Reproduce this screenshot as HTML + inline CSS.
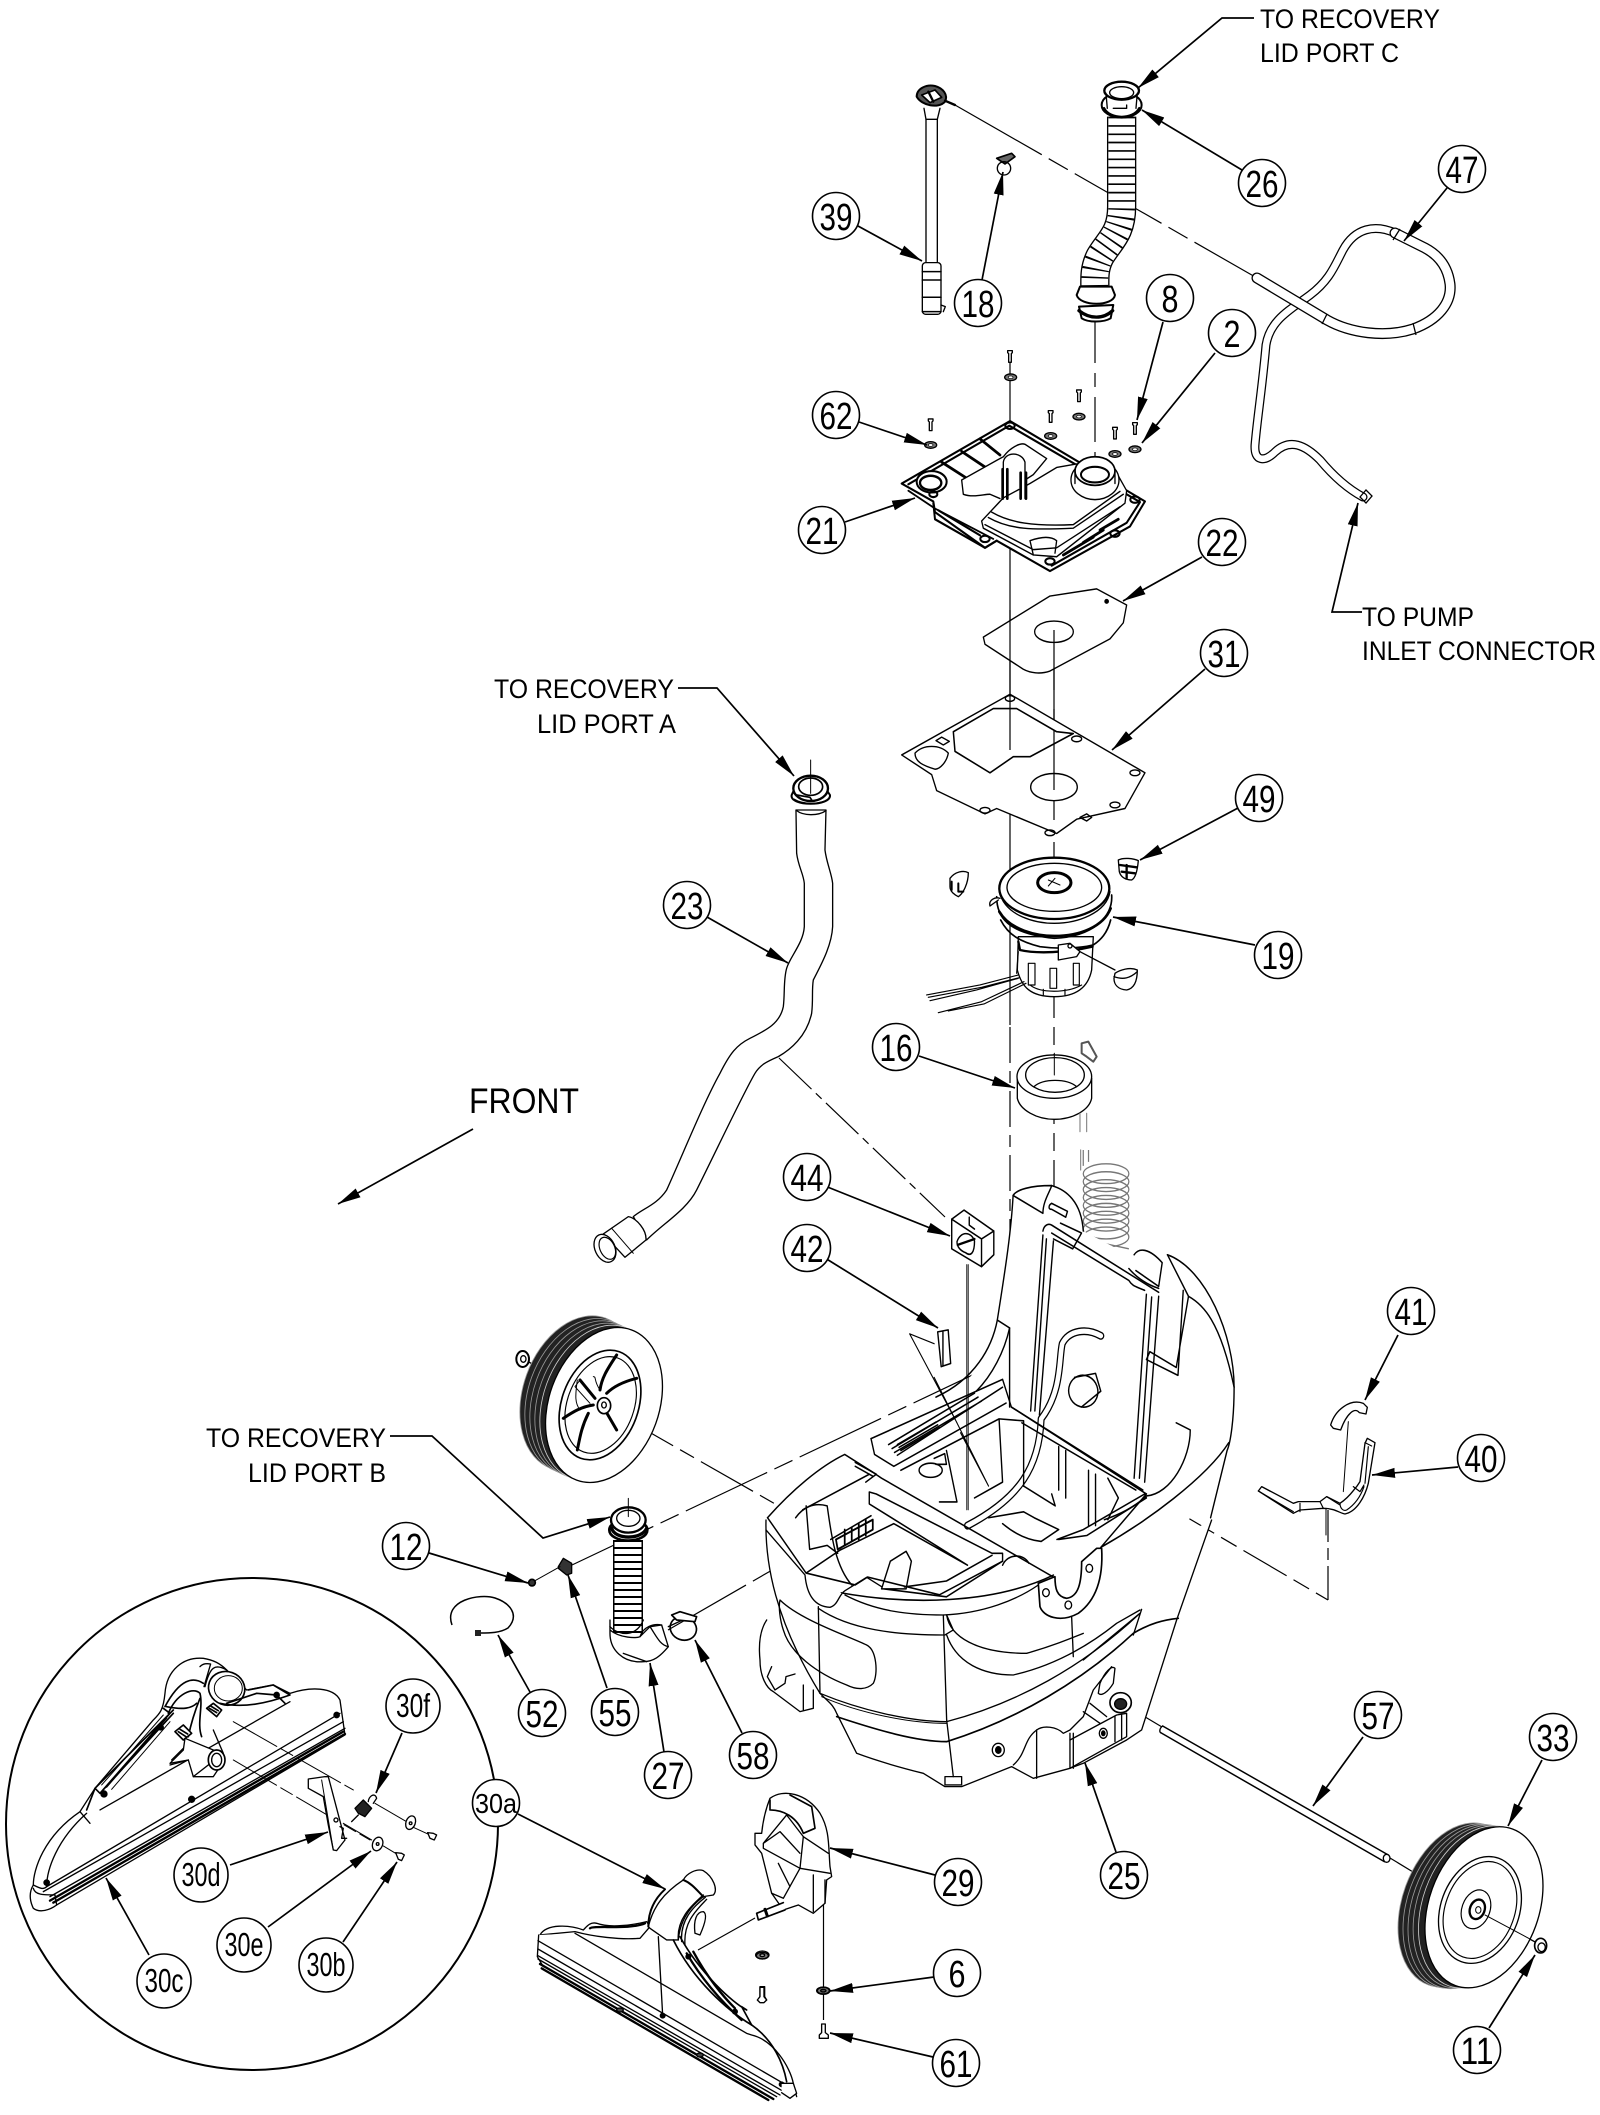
<!DOCTYPE html>
<html><head><meta charset="utf-8"><title>Parts diagram</title>
<style>
html,body{margin:0;padding:0;background:#fff}
svg{display:block}
text{font-family:"Liberation Sans",sans-serif;fill:#000}
.n{font-size:38px;text-anchor:middle}
.s{font-size:33px;text-anchor:middle}
.t{font-size:27px}
.L circle{fill:#fff;stroke:#000;stroke-width:1.6}
.ld{fill:none;stroke:#000;stroke-width:1.7;marker-end:url(#a)}
.d{fill:none;stroke:#000;stroke-width:1.2}
.z{fill:none;stroke:#000;stroke-width:4;stroke-linejoin:round;stroke-linecap:round}
.th{stroke-width:9}
</style></head><body>
<svg xmlns="http://www.w3.org/2000/svg" width="1600" height="2115" viewBox="0 0 1600 2115">
<defs>
<marker id="a" markerUnits="userSpaceOnUse" markerWidth="26" markerHeight="14" refX="23" refY="6" orient="auto"><path d="M0,1 L23,6 L0,11 Z" fill="#000"/></marker>
<g id="scr"><path d="M-7,-18 h14 v6 l-3,3 v26 h-8 v-26 l-3,-3 z" fill="#fff" stroke="#000" stroke-width="4"/></g>
<g id="was"><ellipse rx="18" ry="10" fill="#777" stroke="#000" stroke-width="4"/><ellipse rx="7" ry="4" fill="#fff" stroke="#000" stroke-width="2"/></g>
</defs>
<rect width="1600" height="2115" fill="#fff"/>

<!-- dashed axes -->
<g class="d">
<path d="M955,105 L1257,278" stroke-dasharray="100 8 22 8"/>
<path d="M1010,350 V1025"/>
<path d="M1010,1027 V1420" stroke-dasharray="36 8 12 8"/>
<path d="M1095,318 V480" stroke-dasharray="45 10 14 10"/>
<path d="M1054,630 V1560" stroke-dasharray="70 9 18 9"/>
<path d="M779,1058 L945,1217" stroke-dasharray="45 6 8 6"/>
<path d="M621,1416 L777,1505" stroke-dasharray="60 8 16 8"/>
<path d="M572,1565 L1040,1343" stroke-dasharray="90 8 20 8"/>
<path d="M668,1630 L1010,1433" stroke-dasharray="90 8 20 8"/>
<path d="M1171,1508 L1328,1600" stroke-dasharray="50 8 18 8"/>
<path d="M1328,1600 V1510" stroke-dasharray="34 6 12 6"/>
<path d="M1130,1708 L1162,1727 M1390,1858 L1418,1875 M1485,1915 L1535,1942"/>
<path d="M698,1950 L755,1918"/>
<path d="M823.5,1905 V2020"/>
</g>

<!-- Zoom-4 region: standpipe, hose 26, screws -->
<g transform="translate(880,40) scale(.3333)" class="z">
<path d="M110,170 C110,145 140,132 165,138 C190,145 205,165 195,185 C175,207 125,197 110,170Z" fill="#555" stroke-width="6"/>
<path d="M125,165 L165,150 L185,172 L150,188 Z" fill="#fff" stroke-width="5"/>
<path d="M145,155 L160,185 M195,182 L225,195" stroke-width="7"/>
<path d="M132,205 L138,238 H172 L180,205"/>
<path d="M138,238 V665 M172,238 V665"/>
<rect x="127" y="668" width="56" height="155" rx="10" fill="#fff"/>
<path d="M127,695 H183 M127,720 H183 M127,772 H183 M127,815 H183" stroke-width="4.5"/>
<path d="M183,795 L196,800 L190,815"/>
<path d="M350,355 L395,340 L405,350 L375,372 Z" fill="#666" stroke-width="5"/><ellipse cx="372" cy="385" rx="20" ry="20"/>
<path d="M725,230 C725,330 725,420 725,500 C725,580 690,600 660,650 C640,690 645,720 645,770" stroke="#000" stroke-width="88" stroke-linecap="butt"/>
<path d="M725,230 C725,330 725,420 725,500 C725,580 690,600 660,650 C640,690 645,720 645,770" stroke="#fff" stroke-width="80" stroke-linecap="butt"/>
<path d="M725,230 C725,330 725,420 725,500 C725,580 690,600 660,650 C640,690 645,720 645,770" stroke="#000" stroke-width="80" stroke-linecap="butt" stroke-dasharray="5 20"/>
<ellipse cx="725" cy="195" rx="60" ry="38" fill="#fff" stroke-width="6"/>
<path d="M672,205 C690,240 760,240 778,205" stroke-width="8"/>
<ellipse cx="725" cy="152" rx="52" ry="27" fill="#fff" stroke-width="7"/><ellipse cx="725" cy="158" rx="36" ry="18"/>
<path d="M678,160 L682,205 M772,160 L768,205 M700,205 H740 V195"/>
<path d="M590,765 C600,800 700,800 705,765 L695,740 H600 Z" fill="#fff" stroke-width="6"/>
<path d="M597,800 L605,835 C625,848 670,848 692,835 L700,795 Z" fill="#fff" stroke-width="6"/>
<path d="M597,812 C630,838 670,838 698,812" stroke-width="10"/>
<use href="#scr" x="390" y="950"/><use href="#was" x="392" y="1012"/>
<use href="#scr" x="597" y="1068"/><use href="#was" x="597" y="1130"/>
<use href="#scr" x="512" y="1130"/><use href="#was" x="512" y="1188"/>
<use href="#scr" x="705" y="1180"/><use href="#was" x="705" y="1242"/>
<use href="#scr" x="765" y="1166"/><use href="#was" x="765" y="1228"/>
<use href="#scr" x="152" y="1155"/><use href="#was" x="152" y="1215"/>
</g>

<!-- handle hose 47 -->
<g fill="none">
<path d="M1395,233 C1375,224 1355,228 1343,250 C1335,265 1330,280 1310,295 C1290,310 1270,320 1266,345 C1262,390 1257,420 1255,445 C1254,462 1265,462 1275,452 C1290,438 1305,445 1320,460 C1335,478 1350,490 1363,497" stroke="#000" stroke-width="9" stroke-linecap="round"/>
<path d="M1395,233 C1375,224 1355,228 1343,250 C1335,265 1330,280 1310,295 C1290,310 1270,320 1266,345 C1262,390 1257,420 1255,445 C1254,462 1265,462 1275,452 C1290,438 1305,445 1320,460 C1335,478 1350,490 1363,497" stroke="#fff" stroke-width="6.5" stroke-linecap="round"/>
<path d="M1257,278 L1327,320 C1350,333 1385,338 1413,329 C1438,320 1452,303 1450,284 C1448,268 1440,256 1425,248 L1395,233" stroke="#000" stroke-width="11" stroke-linecap="round"/>
<path d="M1257,278 L1327,320 C1350,333 1385,338 1413,329 C1438,320 1452,303 1450,284 C1448,268 1440,256 1425,248 L1395,233" stroke="#fff" stroke-width="8.4" stroke-linecap="round"/>
<path d="M1327,314 L1322,324 M1413,323 L1416,335 M1400,229 L1393,240 M1360,497 L1366,490 L1372,496 L1366,503Z" stroke="#000" stroke-width="1.3"/>
</g>

<!-- Zoom-2 region: lid, gaskets -->
<g transform="translate(860,280) scale(.3333,.3571)" class="z">
<path d="M125,570 L450,395 L855,620 L810,690 L570,815 L410,730 L375,750 L225,650 L220,620 Z" fill="#fff" stroke-width="6"/>
<path d="M145,572 L448,408 L840,622 L800,680 L575,800" stroke-width="6"/>
<path d="M245,510 L320,555 M305,480 L385,530 M360,445 L420,490 M610,770 L700,720 M670,735 L730,700 M720,700 L775,670" stroke-width="8"/>
<path d="M220,625 L225,670 L375,750 L410,730 M235,645 L360,715" stroke-width="6"/>
<path d="M145,590 L225,640 L400,725" stroke-width="5"/>
<path d="M305,560 L410,505 L430,495 C450,470 480,455 495,460 L560,500 L520,545 L495,560 M305,560 L310,600 C340,610 370,600 390,600 L420,612" fill="#fff"/>
<path d="M365,675 L415,625 L430,610 L510,570 L590,525 L650,515 L770,540 L800,590 L795,625 L590,775 L520,770 L370,695 Z" fill="#fff"/>
<path d="M385,665 C450,700 520,700 640,695 L790,600 M395,650 C450,680 520,690 640,685 L780,592" stroke-width="4"/>
<path d="M375,685 L520,755 L590,750 L780,635 M510,730 L520,770 M510,730 C540,720 570,715 590,730 L585,765" stroke-width="4"/>
<path d="M430,510 C435,480 485,480 495,510 V612 M430,510 V612" stroke-width="4" fill="#fff"/>
<path d="M428,530 V612 M442,530 V612 M482,540 V612 M498,540 V612" stroke-width="8"/>
<ellipse cx="705" cy="560" rx="72" ry="55" fill="#fff"/>
<ellipse cx="705" cy="535" rx="60" ry="40" fill="#fff" stroke-width="5"/>
<path d="M645,535 V570 M765,535 V570"/>
<ellipse cx="705" cy="545" rx="42" ry="22" stroke-width="6"/>
<ellipse cx="215" cy="565" rx="45" ry="30" fill="#fff" stroke-width="6"/><ellipse cx="212" cy="568" rx="32" ry="20" stroke-width="7"/>
<ellipse cx="450" cy="408" rx="14" ry="9" stroke-width="6"/><ellipse cx="825" cy="615" rx="14" ry="9" stroke-width="6"/><ellipse cx="765" cy="710" rx="14" ry="9" stroke-width="6"/><ellipse cx="570" cy="788" rx="14" ry="9" stroke-width="6"/><ellipse cx="375" cy="725" rx="14" ry="9" stroke-width="6"/><ellipse cx="220" cy="600" rx="12" ry="8" stroke-width="6"/>
<path d="M370,1000 L570,885 L710,865 L800,910 L790,960 L750,1005 L570,1095 C540,1105 510,1100 490,1090 L375,1020Z" fill="#fff"/>
<ellipse cx="582" cy="985" rx="58" ry="30"/><circle cx="740" cy="900" r="5" fill="#000"/>
<path d="M125,1330 L450,1160 L855,1380 L795,1480 L650,1510 L590,1550 L410,1480 L375,1495 L230,1430 L215,1385Z" fill="#fff"/>
<path d="M280,1265 L400,1200 L470,1200 L590,1265 L640,1270 L510,1335 L460,1335 L390,1380 L285,1320Z" stroke-width="4.5"/>
<path d="M165,1325 C190,1300 240,1300 265,1325 C260,1350 240,1370 225,1370 C190,1360 165,1350 165,1325Z"/>
<path d="M228,1290 L245,1280 L268,1292 L250,1302Z M660,1505 L680,1495 L695,1505 L680,1515Z"/>
<ellipse cx="582" cy="1420" rx="70" ry="38" fill="#fff"/>
<ellipse cx="450" cy="1172" rx="14" ry="8"/><ellipse cx="650" cy="1285" rx="15" ry="8"/><ellipse cx="825" cy="1380" rx="15" ry="8"/><ellipse cx="765" cy="1470" rx="15" ry="8"/><ellipse cx="570" cy="1548" rx="15" ry="8"/><ellipse cx="375" cy="1485" rx="15" ry="8"/>
</g>
<path d="M1010,650 V750 M1010,610 V650" class="d"/>
<path d="M1054,630 V820" class="d" stroke-dasharray="60 10 20 10"/>

<!-- Zoom-5 region: motor -->
<g transform="translate(880,830) scale(.3333)" class="z">
<path d="M415,320 L412,420 C425,470 450,500 523,500 C590,500 625,470 635,420 L640,320 Z" fill="#fff"/>
<path d="M445,400 V465 H465 V400Z M510,415 V475 H530 V415Z M580,400 V465 H598 V400Z M415,365 L410,430 M450,465 C480,490 560,490 605,465 M490,478 V495 M555,478 V495" stroke-width="3.5"/>
<path d="M350,200 C350,260 380,310 523,325 C640,320 700,260 695,195" fill="#fff" stroke-width="5"/>
<path d="M358,245 C390,300 470,318 523,318 C600,318 670,290 692,235" stroke-width="8"/>
<path d="M362,270 C385,315 420,335 480,350 C540,358 600,355 640,345 C662,330 682,310 692,270" stroke-width="5"/>
<path d="M415,335 L420,360 C470,372 560,368 638,350" stroke-width="7"/>
<ellipse cx="523" cy="175" rx="165" ry="92" fill="#fff" stroke-width="7"/>
<ellipse cx="523" cy="172" rx="142" ry="72"/>
<path d="M358,185 C375,260 470,280 523,280 C590,280 680,250 690,185"/>
<ellipse cx="523" cy="158" rx="50" ry="30" fill="#fff" stroke-width="9"/><path d="M505,150 L540,165 M505,168 L525,145" stroke-width="3"/>
<path d="M355,210 L330,228 C325,210 345,200 360,205" fill="#fff"/>
<path d="M535,345 L570,340 L600,365 L590,380 L535,390 V365 Z" fill="#fff" stroke-width="4"/><circle cx="570" cy="348" r="6"/>
<path d="M600,365 L705,420"/>
<path d="M415,435 L300,465 L140,495 M418,443 L305,472 L145,502 M415,445 L290,480 L150,512 M432,455 L305,515 L175,548 M438,460 L312,522 L205,543" stroke-width="3.5"/>
<path d="M210,145 C225,125 250,120 265,128 C265,160 250,190 235,200 C225,195 210,185 210,170Z" fill="#fff"/><path d="M235,160 V185 H250 M215,155 V180" stroke-width="6"/>
<path d="M715,90 C730,82 760,85 775,92 C772,125 765,145 755,150 C735,150 722,140 718,125Z" fill="#fff"/><path d="M720,105 L770,112 M725,125 L765,130 M740,105 V145" stroke-width="7"/>
<path d="M705,430 C720,420 750,410 772,420 C772,450 765,475 740,480 C715,478 702,465 702,445Z" fill="#fff"/><path d="M702,440 C730,450 750,445 772,425"/>
<path d="M605,640 L625,635 L650,680 L640,695 L620,680 L605,670Z" stroke="#555" stroke-width="6"/>
<path d="M412,745 L412,805 C420,840 470,868 523,868 C580,868 628,840 635,805 L635,745" fill="#fff"/>
<ellipse cx="523" cy="740" rx="112" ry="65" fill="#fff"/>
<ellipse cx="525" cy="735" rx="88" ry="52"/>
<path d="M462,770 C490,745 560,745 590,770"/>
<path d="M523,670 V735" stroke-width="3"/>
<path d="M600,850 V905 M620,850 V905 M602,960 V1020" stroke="#888" stroke-width="3.5"/>
</g>

<!-- Hose 23 -->
<g transform="translate(570,760) scale(.3333)" class="z">
<path d="M678,150 L680,280 C685,320 700,340 703,370 L703,500 C700,550 660,590 650,625 C640,660 645,700 640,740 C630,790 590,810 540,835 C500,855 480,880 450,940 C400,1030 340,1180 290,1290 C260,1335 220,1345 190,1370 L230,1440 C280,1390 350,1350 380,1290 C440,1170 520,1000 555,940 C570,915 590,905 625,890 C660,870 710,830 725,760 C730,720 725,690 730,660 C750,620 785,560 788,500 L788,370 C785,340 770,310 765,270 L768,150 Z" fill="#fff"/>
<path d="M680,152 C700,168 745,168 768,152" stroke-width="4"/>
<path d="M665,105 C658,140 785,140 780,105 L770,90 H672 Z" fill="#fff" stroke-width="6"/>
<ellipse cx="722" cy="85" rx="52" ry="38" fill="#fff" stroke-width="7"/>
<ellipse cx="722" cy="80" rx="36" ry="26" stroke-width="5"/>
<path d="M680,105 L720,112 L725,120 M672,118 C700,135 750,135 775,118" stroke-width="5"/>
<path d="M722,0 V100" stroke-width="3"/>
<path d="M175,1370 L100,1422 L165,1492 L228,1440 C230,1410 200,1375 175,1370Z" fill="#fff"/>
<ellipse cx="105" cy="1465" rx="30" ry="44" transform="rotate(-25 105 1465)" fill="#fff" stroke-width="4"/>
<ellipse cx="112" cy="1465" rx="22" ry="35" transform="rotate(-25 112 1465)" stroke-width="3.5"/>
<path d="M125,1405 L190,1480" stroke-width="3"/>
</g>

<!-- Spring -->
<g transform="translate(750,1150) scale(.3508,.3954)" fill="none" stroke="#777" stroke-width="3.5">
<ellipse cx="1015" cy="60" rx="65" ry="25"/><ellipse cx="1015" cy="80" rx="65" ry="25"/><ellipse cx="1015" cy="100" rx="65" ry="25"/><ellipse cx="1015" cy="120" rx="65" ry="25"/><ellipse cx="1015" cy="140" rx="65" ry="25"/><ellipse cx="1015" cy="160" rx="65" ry="25"/><ellipse cx="1015" cy="180" rx="65" ry="25"/><ellipse cx="1015" cy="200" rx="65" ry="25"/><ellipse cx="1015" cy="220" rx="65" ry="25"/><path d="M950,0 V40 M965,0 V30 M950,225 L1080,250"/>
</g>

<!-- Body top, zoom-1 -->
<g transform="translate(750,1150) scale(.3508,.3954)" class="z" stroke-width="3.8">
<path d="M750,115 C800,95 830,90 860,90 C900,100 940,125 950,205 L1090,270 L1100,250 C1130,250 1160,265 1180,285 L1190,265 C1300,300 1380,470 1380,600 C1380,680 1370,740 1360,760 L1130,1130 L860,1200 L160,1100 L50,930 C120,860 200,800 270,770 L350,815 L345,730 L570,620 C640,580 690,500 705,430 C730,290 745,200 750,115Z" fill="#fff" stroke="none"/>
<path d="M750,115 L835,160 C835,130 855,105 860,90 C800,90 760,100 750,115 Z"/>
<path d="M860,90 C900,100 945,130 950,205"/>
<path d="M750,115 C745,200 730,290 705,430 C690,500 640,580 530,625"/>
<path d="M705,430 L740,450 C725,510 690,570 645,610"/>
<path d="M740,450 V580 M740,580 V650"/>
<path d="M860,135 L905,155 L900,170 L860,150 M860,135 C850,140 850,150 860,150"/>
<path d="M835,215 L800,660 M845,225 L812,660 M865,230 L825,670"/>
<path d="M835,205 C838,190 850,185 860,190 L1165,360 M860,210 L1080,330 C1090,345 1100,345 1125,355"/>
<path d="M885,185 L945,210 L920,250 L865,225"/>
<path d="M1095,265 C1110,245 1140,250 1175,285 L1165,345 L1100,305"/>
<path d="M1080,300 C1100,320 1130,340 1165,350"/>
<path d="M1130,365 L1095,830 M1145,372 L1110,830 M1165,370 L1125,840"/>
<path d="M1190,265 C1300,300 1380,470 1380,600 C1380,680 1370,740 1360,760 L1313,930"/>
<path d="M1190,265 L1250,370 C1290,390 1340,430 1380,600"/>
<path d="M1235,355 L1220,570 L1130,530 L1140,510 L1215,550 L1250,370"/>
<path d="M1215,690 L1255,708 C1255,780 1200,870 1130,875 C1100,900 1060,920 1010,935"/>
<path d="M1000,470 C960,450 910,455 890,490 C880,530 890,610 830,680 C825,800 770,880 620,950" stroke="#000" stroke-width="20"/>
<path d="M1000,470 C960,450 910,455 890,490 C880,530 890,610 830,680 C825,800 770,880 620,950" stroke="#fff" stroke-width="13"/>
<ellipse cx="950" cy="610" rx="42" ry="40" transform="rotate(25 950 610)" fill="#fff"/>
<path d="M925,575 L985,565 L1000,610 L945,650"/>
<path d="M345,730 L720,580 L745,650 L1130,870"/>
<path d="M345,730 L355,770 L410,800 L730,640"/>
<path d="M395,745 L640,615 M405,755 L650,625 M412,765 L660,635 M420,772 L720,600"/>
<path d="M420,745 L530,688 M425,752 L535,695 M430,760 L540,702" stroke-width="4"/>
<path d="M430,810 L710,680 L780,685 L780,850 M710,680 L720,840 L640,880 M560,760 L590,890 L540,890"/>
<path d="M745,650 L1120,860"/>
<path d="M775,690 L1100,860 M780,850 L870,900 L860,870 M880,750 V860 M900,760 V880 M965,810 V950 M985,820 V950 M1020,830 L1050,880 L1020,935"/>
<ellipse cx="515" cy="810" rx="33" ry="18"/>
<path d="M525,780 L555,768 L560,795 L530,795"/>
<path d="M680,930 L780,915 L810,930 L880,960 L830,990 C780,985 740,960 720,945"/>
<path d="M880,985 L960,975 L1130,880 L1125,870 L950,960 L875,985"/>
<path d="M50,930 C120,860 200,800 270,770 L350,815 L375,830 L865,1080"/>
<path d="M50,930 L160,1070 L300,1100 L335,1080 L540,1125 L720,1040 L720,1020 L690,1020 L360,870 L340,865 L340,895 L620,1050 L410,945 L250,1015 M160,1070 L260,1010"/>
<path d="M300,790 L360,820 L330,840 M300,800 L350,825"/>
<path d="M130,930 C150,905 180,890 220,900 C230,960 240,1050 290,1100 M160,900 L170,1010 L220,1000 L250,1020"/>
<path d="M150,910 L340,820 M345,925 L230,985" stroke-width="4"/>
<path d="M245,985 L350,935 V960 L250,1010Z M270,960 V1000 M290,955 V990 M310,945 V985 M330,935 V975" stroke-width="5"/>
<path d="M400,1040 L445,1015 L460,1040 L445,1110 L375,1110 Z M380,1110 L560,1130 L720,1040 M440,1105 L560,1090 L690,1025"/>
<path d="M720,1050 C735,1020 780,1020 795,1045"/>
<path d="M865,1075 C690,1150 450,1150 260,1120"/>
<path d="M1000,1005 L1130,870 M1000,1005 C1130,940 1300,830 1365,740"/>
</g>
<!-- Body bottom, zoom-6 -->
<g transform="translate(750,1520) scale(.3333)" class="z" stroke-width="3.8">
<path d="M48,0 C50,130 70,300 210,520 L260,580 L320,700 L520,760 L585,800 L635,800 L785,740 L850,775 L960,745 L1130,660 L1175,630 L1280,300 L1385,0 L1100,150 L865,195 L580,285 L285,225 L165,165 L48,30Z" fill="#fff" stroke="none"/>
<path d="M48,0 C45,130 75,300 210,520 C240,550 250,555 260,580 L320,700 C400,730 480,750 520,760 L585,800 L635,800 L785,740 L850,775 L960,745 L1000,730 L1130,660 L1175,630 L1280,300 L1385,0"/>
<path d="M210,520 C330,570 480,605 590,605 C800,550 1000,440 1170,280"/>
<path d="M215,530 C330,580 480,610 590,610" stroke-width="3"/>
<path d="M260,590 C380,630 500,665 590,665 C800,600 1000,480 1150,340 C1200,310 1240,300 1285,295" stroke-width="5"/>
<path d="M1175,268 L1150,345 M1170,280 L1000,420"/>
<path d="M580,285 L590,600 L610,770"/>
<path d="M205,260 L210,520 M965,290 L970,410"/>
<path d="M90,240 C150,300 300,350 350,375 C380,390 385,460 370,490 C350,510 320,510 290,495 C200,460 120,400 100,330 C90,300 85,260 90,240Z"/>
<path d="M48,30 L165,165 C170,220 190,260 240,262 C265,255 265,225 285,212 L350,172 L395,200"/>
<path d="M285,225 C380,275 480,285 580,285 C700,280 800,240 865,195"/>
<path d="M205,265 C300,330 440,345 580,345"/>
<path d="M590,345 C620,430 700,465 790,465 C900,440 1000,390 1100,310 L1170,270"/>
<path d="M590,285 C600,350 680,400 830,400 C900,380 950,360 1000,340"/>
<path d="M590,285 L610,330 L585,345"/>
<path d="M865,190 L870,260 C880,290 930,310 985,280 C1040,240 1060,170 1055,85 L1040,85 L995,125 C995,190 985,230 950,235 C920,230 915,205 915,170 L865,190" stroke-width="5"/>
<ellipse cx="888" cy="218" rx="10" ry="12"/><ellipse cx="955" cy="255" rx="10" ry="12"/><ellipse cx="1018" cy="145" rx="10" ry="12"/>
<path d="M960,640 V745 M970,640 V745"/>
<path d="M960,660 L1100,585 L1130,580 L1130,650 L960,745"/>
<path d="M1095,590 V665 M1115,585 V660"/>
<path d="M860,630 V775"/>
<path d="M790,735 C830,700 820,660 860,630 C880,615 920,620 940,640 L960,630 L1000,590 L1030,510 L1085,440"/>
<path d="M1000,575 L1050,610 M1020,550 L1070,590"/>
<path d="M1050,490 C1065,455 1085,435 1095,445 L1090,490 C1075,515 1055,530 1045,520 Z"/>
<ellipse cx="745" cy="690" rx="18" ry="20"/><ellipse cx="745" cy="690" rx="8" ry="10" fill="#000"/>
<ellipse cx="1060" cy="640" rx="12" ry="15"/><ellipse cx="1060" cy="640" rx="5" ry="7" fill="#000"/>
<ellipse cx="1112" cy="548" rx="32" ry="30" fill="#fff" stroke-width="5"/><ellipse cx="1112" cy="552" rx="18" ry="16" fill="#222"/>
<path d="M50,300 C30,330 25,370 30,420 C30,470 50,505 70,515 L150,575 L190,565 V510"/>
<path d="M65,440 L52,470 L75,510 L105,490 L108,470 L135,462 M160,495 V570"/>
<path d="M585,770 H635 V795 H585Z"/>
</g>

<!-- 29 bracket + hardware, zoom 6 -->
<g transform="translate(750,1520) scale(.3333)" class="z">
<path d="M60,835 C100,805 170,820 210,880 C240,930 235,980 240,1040 L245,1070 L230,1080 L225,1150 L190,1180 L145,1155 L100,1170 L65,1120 L35,1000 L15,975 L15,940 L35,940 C40,890 50,860 60,835 Z" fill="#fff"/>
<path d="M60,840 L60,870 C100,870 140,890 160,940 L195,925 L185,860 L120,825" stroke-width="5"/>
<path d="M40,970 L110,885 L160,950 L150,1045 L40,985Z M40,970 L90,935 L150,1000"/>
<path d="M150,1045 L240,1060 M160,950 L235,1000 M190,1065 V1175 M225,1080 V1150 M150,1045 L100,1135 L65,1120 M85,1030 L120,1100"/>
<path d="M100,1148 L20,1180 L25,1200 L105,1170" fill="#fff" stroke-width="5"/>
<path d="M45,1168 L52,1188" class="th"/>
<use href="#was" x="37" y="1307"/>
<use href="#was" x="220" y="1412"/>
<path d="M30,1400 H44 V1430 L50,1440 H24 L30,1430 Z" fill="#fff"/>
</g>

<!-- Nozzle 30a -->
<g transform="translate(420,1620) scale(.3333)" class="z">
<path d="M360,945 C380,910 450,915 490,930 C500,920 510,905 530,910 C570,925 640,915 680,905 L690,920 L660,955 C600,960 520,950 465,935 Z" fill="#fff"/>
<path d="M510,925 C520,915 630,930 675,910" stroke-width="7"/>
<path d="M685,920 C700,860 730,820 790,780 C800,760 830,745 850,752 C880,770 895,810 880,825 L850,830 C810,860 780,900 775,960 L740,960 L690,925 Z" fill="#fff"/>
<path d="M790,780 C815,790 830,810 850,830 M735,808 C700,840 685,880 685,920" stroke-width="6"/>
<path d="M775,960 C770,900 810,860 850,825 M785,965 C780,900 820,860 856,832 M795,975 C790,905 830,870 860,838" stroke-width="4"/>
<path d="M825,940 C820,900 830,875 850,875 C860,880 860,900 840,945 Z" fill="#fff"/>
</g>
<g transform="translate(560,1900) scale(.3333)" class="z">
<path d="M-64,105 L45,100 L560,400 L575,405 C640,420 690,500 700,550 L710,590 L640,600 L-50,200 L-68,170 Z" fill="#fff" stroke="none"/>
<path d="M-64,105 L-68,170 L-50,200"/>
<path d="M45,100 L560,400 L575,405 C640,420 690,500 700,550 L710,590"/>
<path d="M340,120 C400,240 500,330 575,375 C640,420 670,490 680,545" stroke-width="5"/>
<path d="M360,110 C420,220 520,310 560,330 L545,320 L575,375" stroke-width="5"/>
<path d="M400,155 C440,230 490,290 525,325 M380,160 C430,245 490,310 545,360" stroke-width="7"/>
<circle cx="385" cy="170" r="7" fill="#000"/><circle cx="525" cy="335" r="7" fill="#000"/><circle cx="308" cy="347" r="7" fill="#000"/><circle cx="665" cy="553" r="7" fill="#000"/>
<path d="M295,110 L308,345"/>
<path d="M-66,122 L670,550 L700,560"/>
<path d="M-66,147 L680,580 M-66,167 L660,585 M-66,177 L650,590" stroke-width="4"/>
<path d="M-60,192 L640,597 M-55,205 L625,600" stroke-width="7"/>
<path d="M665,550 L700,550 L710,580 L690,595 L665,578" fill="#fff"/>
<ellipse cx="180" cy="330" rx="10" ry="6" fill="#444"/><ellipse cx="420" cy="465" rx="10" ry="6" fill="#444"/>
<ellipse cx="607" cy="165" rx="20" ry="12"/><ellipse cx="607" cy="165" rx="7" ry="4"/>
<ellipse cx="790" cy="272" rx="20" ry="11"/><ellipse cx="790" cy="272" rx="8" ry="4" fill="#555"/>
<path d="M600,262 H612 V290 L620,300 L612,308 H600 L592,300 L600,290 Z" fill="#fff"/>
<path d="M785,372 H796 V398 L805,405 V415 H778 V405 L785,398 Z" fill="#fff"/>
</g>

<!-- Left wheel -->
<g transform="translate(500,1290) scale(.3333)" class="z">
<path d="M70,207 L115,232"/>
<ellipse cx="68" cy="207" rx="19" ry="24" fill="#fff" stroke-width="6"/><ellipse cx="70" cy="207" rx="8" ry="10" stroke-width="4"/>
<ellipse cx="235" cy="310" rx="165" ry="240" transform="rotate(20 235 310)" fill="#222" stroke="#999" stroke-width="2.5"/>
<ellipse cx="250" cy="318" rx="165" ry="240" transform="rotate(20 250 318)" fill="#222" stroke="#999" stroke-width="2.5"/>
<ellipse cx="265" cy="325" rx="165" ry="240" transform="rotate(20 265 325)" fill="#222" stroke="#999" stroke-width="2.5"/>
<ellipse cx="280" cy="332" rx="165" ry="240" transform="rotate(20 280 332)" fill="#222" stroke="#999" stroke-width="2.5"/>
<ellipse cx="295" cy="338" rx="165" ry="240" transform="rotate(20 295 338)" fill="#222" stroke="#ccc" stroke-width="2.5"/>
<ellipse cx="312" cy="345" rx="165" ry="240" transform="rotate(20 312 345)" fill="#fff" stroke-width="4"/>
<ellipse cx="300" cy="345" rx="115" ry="170" transform="rotate(20 300 345)" stroke-width="5"/>
<ellipse cx="302" cy="345" rx="100" ry="150" transform="rotate(20 302 345)" stroke-width="3.5"/>
<path d="M240,270 L285,325 M350,195 C320,240 305,265 300,300 M410,265 C370,275 340,290 320,310 M350,420 L318,365 M232,480 C240,440 245,410 265,370 M190,385 C220,365 245,350 280,345" class="th"/>
<path d="M240,270 L225,290 L270,340 M300,300 C280,270 290,260 280,260 M232,270 C225,320 225,340 240,360" stroke-width="3"/>
<ellipse cx="312" cy="347" rx="20" ry="24" fill="#fff" stroke-width="5"/><ellipse cx="312" cy="345" rx="7" ry="9"/>
</g>

<!-- Hose 27 + elbow, clip, screw -->
<g fill="none">
<path d="M628,1540 V1640" stroke="#000" stroke-width="30"/>
<path d="M628,1540 V1640" stroke="#fff" stroke-width="27"/>
<path d="M628,1540 V1640" stroke="#000" stroke-width="27" stroke-dasharray="2 5"/>
</g>
<g transform="translate(500,1290) scale(.3333)" class="z">
<ellipse cx="385" cy="720" rx="57" ry="32" fill="#fff" stroke-width="8"/>
<ellipse cx="385" cy="690" rx="52" ry="38" fill="#fff" stroke-width="7"/>
<ellipse cx="385" cy="685" rx="35" ry="24"/>
<path d="M335,715 C345,750 425,750 440,715" stroke-width="10"/>
<path d="M385,625 V680" stroke-width="3"/>
<path d="M175,830 L190,805 L215,820 L215,850 L200,855 L175,835Z" fill="#333"/>
<ellipse cx="96" cy="878" rx="10" ry="10" fill="#333" stroke-width="5"/>
<path d="M105,872 L180,830" stroke-width="3"/>
</g>
<g transform="translate(420,1620) scale(.3333)" class="z">
<path d="M570,0 V40 C570,90 610,130 670,125 C700,125 720,110 745,80 L725,15 L690,20 L660,50 C650,55 600,55 570,30 Z" fill="#fff"/>
<path d="M660,50 C670,20 700,10 725,15 M690,20 C710,50 720,75 745,80 M570,20 C600,50 650,50 670,0 M610,100 L680,125"/>
<ellipse cx="790" cy="25" rx="40" ry="35" transform="rotate(20 790 25)" stroke-width="5"/>
<path d="M745,20 L810,-10"/>
<path d="M755,-15 L780,-25 L830,-10 L825,5 L770,0 Z" fill="#fff" stroke-width="5"/>
</g>
<path d="M480,1633 C490,1633 500,1633 508,1628 C520,1615 510,1603 495,1598 C480,1593 443,1600 452,1625" fill="none" stroke="#000" stroke-width="1.5"/>
<rect x="475" y="1630" width="6" height="6" fill="#222"/>

<!-- Right wheel + axle -->
<g transform="translate(1120,1620) scale(.3333)" class="z">
<path d="M128,318 L805,705 M122,338 L793,725" stroke-width="4.5"/>
<path d="M128,318 C118,325 118,335 122,338"/>
<ellipse cx="800" cy="715" rx="10" ry="12" fill="#fff"/>
<ellipse cx="1012" cy="855" rx="165" ry="255" transform="rotate(20 1012 855)" fill="#222" stroke="#999" stroke-width="2.5"/>
<ellipse cx="1027" cy="858" rx="165" ry="255" transform="rotate(20 1027 858)" fill="#222" stroke="#999" stroke-width="2.5"/>
<ellipse cx="1042" cy="860" rx="165" ry="255" transform="rotate(20 1042 860)" fill="#222" stroke="#999" stroke-width="2.5"/>
<ellipse cx="1057" cy="860" rx="165" ry="253" transform="rotate(20 1057 860)" fill="#222" stroke="#999" stroke-width="2.5"/>
<ellipse cx="1073" cy="861" rx="165" ry="252" transform="rotate(20 1073 861)" fill="#222" stroke="#ccc" stroke-width="2.5"/>
<ellipse cx="1092" cy="862" rx="165" ry="250" transform="rotate(20 1092 862)" fill="#fff" stroke-width="4"/>
<ellipse cx="1080" cy="870" rx="118" ry="165" transform="rotate(20 1080 870)" stroke-width="4"/>
<ellipse cx="1080" cy="870" rx="104" ry="150" transform="rotate(20 1080 870)" stroke-width="3.5"/>
<ellipse cx="1068" cy="868" rx="42" ry="60" transform="rotate(20 1068 868)" stroke-width="3.5"/>
<ellipse cx="1072" cy="868" rx="22" ry="30" transform="rotate(20 1072 868)" stroke-width="7"/>
<ellipse cx="1075" cy="870" rx="8" ry="10" stroke-width="3"/>
<path d="M1095,885 L1245,965" stroke-width="3"/>
<ellipse cx="1262" cy="977" rx="18" ry="22" fill="#fff" stroke-width="5"/><ellipse cx="1265" cy="982" rx="11" ry="13"/>
</g>

<!-- 44 & 42 -->
<g transform="translate(750,1150) scale(.3508,.3954)" class="z">
<path d="M618,290 V910 M622,290 V910" stroke-width="2.5"/>
<path d="M575,175 L610,152 L695,205 L695,265 L660,295 L575,250Z" fill="#fff"/>
<path d="M575,175 L660,225 L695,205 M660,225 V295 M625,170 V190 L640,200"/>
<path d="M590,232 C600,205 630,205 640,230 C640,260 630,270 615,260 C600,255 590,245 590,232" stroke-width="4"/><path d="M592,240 L640,225" stroke-width="6"/>
<path d="M535,460 L565,455 L572,540 L545,548 Z M550,460 V545"/>
<path d="M455,465 L525,490 M455,465 L590,690 M600,715 L680,850 M525,575 L680,850" stroke-width="3"/>
</g>

<!-- 41 / 40 -->
<g transform="translate(1240,1290) scale(.3333)" class="z">
<path d="M272,405 C285,360 330,325 370,340 L382,352 L378,372 L358,368 C345,350 320,370 302,420 L280,415 Z" fill="#fff"/>
<path d="M325,395 L310,605" stroke-width="3"/>
<path d="M55,603 L65,590 L160,640 L175,635 L240,635 L260,620 L300,640 C330,620 340,600 350,590 L360,575 L375,460 L382,445 L405,458 L385,580 C375,620 350,665 315,672 C300,670 285,655 250,655 L180,660 L160,670 Z" fill="#fff"/>
<path d="M55,603 L160,665 M180,640 V665 M240,635 L250,655 M260,620 L300,645 M300,640 C300,655 310,665 320,660 C350,640 365,610 372,590 M340,590 L360,605 L372,585 M385,470 L375,580 M375,458 L395,468" stroke-width="3.5"/>
<path d="M258,655 V735" stroke-width="3"/>
</g>

<!-- Inset circle -->
<circle cx="252" cy="1824" r="246" fill="none" stroke="#000" stroke-width="2"/>
<g transform="translate(0,1580) scale(.3333)" class="z">
<path d="M100,985 C88,960 88,935 100,915 C100,870 130,770 240,695 L285,625 L460,420 C480,400 490,390 495,340 C500,270 550,230 610,235 C640,240 660,250 680,270 L740,330 L820,315 L870,340 C930,320 1000,320 1020,360 L1030,430 L1035,465 L170,975 C150,990 120,1000 100,985 Z" fill="#fff"/>
<path d="M140,920 L1020,400"/>
<path d="M130,935 L1030,425 M150,950 L1035,445"/>
<path d="M150,962 L1030,455 M160,968 L1035,462" stroke-width="7"/>
<path d="M100,915 C120,925 130,930 140,920 C140,870 170,780 260,700"/>
<path d="M100,925 C105,945 130,945 165,945 L170,975"/>
<path d="M285,625 L520,390 M260,690 L285,625 L300,640 L510,400 L490,385 M300,640 L520,400" stroke-width="5"/>
<path d="M305,615 L490,405 M320,622 L500,415 M335,628 L510,425" stroke-width="3"/>
<path d="M300,690 L870,365"/>
<path d="M240,695 L270,730"/>
<path d="M495,380 C540,295 580,290 610,310 M505,400 C530,340 580,320 600,340 C610,380 590,430 605,470 M600,355 C590,380 575,420 565,470 M500,380 C550,390 575,385 590,370" stroke-width="5"/>
<ellipse cx="680" cy="325" rx="55" ry="50" transform="rotate(20 680 325)" fill="#fff" stroke-width="5"/><ellipse cx="685" cy="325" rx="42" ry="38" stroke-width="3"/>
<path d="M615,320 C630,260 645,250 680,270 M600,260 C610,250 620,250 632,252 L612,320" stroke-width="4"/>
<path d="M660,370 C730,385 800,370 870,345 L820,315 L745,330 M680,370 L770,340 L830,345 L855,370" stroke-width="5"/>
<path d="M620,385 L640,370 L665,390 L650,410 Z M525,455 L550,435 L575,460 L550,480Z" fill="#fff" stroke-width="5"/>
<path d="M628,385 L650,398 M632,378 L655,392 M535,455 L558,470 M540,448 L563,462" stroke-width="5"/>
<path d="M555,475 L640,510 L670,545 L640,590 L580,590 L565,540 L510,550 L550,510 Z" fill="#fff"/>
<path d="M640,450 L670,520 L580,590 M565,540 L510,555 M515,540 L550,505"/>
<ellipse cx="650" cy="540" rx="25" ry="30" fill="#fff" stroke-width="5"/><ellipse cx="650" cy="540" rx="15" ry="20"/>
<circle cx="140" cy="908" r="8" fill="#000"/><circle cx="312" cy="642" r="9" fill="#000"/><circle cx="482" cy="442" r="8" fill="#000"/><circle cx="830" cy="345" r="8" fill="#000"/><circle cx="1010" cy="405" r="8" fill="#000"/><circle cx="575" cy="658" r="9" fill="#000"/>
<path d="M700,425 L1060,630" stroke-width="3" stroke-dasharray="150 15 40 15"/>
<path d="M700,540 L1110,780" stroke-width="3" stroke-dasharray="150 15 40 15"/>
<path d="M1125,670 L1225,728 M1240,742 L1290,765 M1030,730 L1115,780 M1150,798 L1195,825" stroke-width="3"/>
<path d="M925,597 L975,590 L985,590 L1035,780 L1010,812 L1000,810 L985,735 L970,650 L925,625 Z" fill="#fff"/>
<path d="M965,600 L1000,810" stroke-width="3"/>
<circle cx="1008" cy="720" r="6"/><path d="M1020,740 L1030,745 L1025,775 L1040,775"/>
<path d="M1065,685 L1090,660 L1115,685 L1095,710 L1075,700 Z" fill="#222"/>
<path d="M1075,705 L1055,725 M1105,665 C1105,650 1125,635 1130,655 L1120,670"/>
<ellipse cx="1232" cy="728" rx="14" ry="21" transform="rotate(20 1232 728)" fill="#fff"/><circle cx="1232" cy="730" r="4"/>
<path d="M1283,758 L1300,760 L1310,765 L1303,780 L1290,775Z" fill="#fff"/>
<ellipse cx="1133" cy="792" rx="15" ry="21" transform="rotate(20 1133 792)" fill="#fff"/><circle cx="1133" cy="792" r="4"/>
<path d="M1187,818 L1205,820 L1213,825 L1205,842 L1195,838Z" fill="#fff"/>
</g>

<!-- Leaders -->
<path class="ld" d="M1254,18 L1222,18 L1138,88"/>
<path class="ld" d="M1242,170 L1142,110"/>
<path class="ld" d="M858,226 L922,261"/>
<path class="ld" d="M982,280 L1003,172"/>
<path class="ld" d="M1163,322 L1137,420"/>
<path class="ld" d="M1215,353 L1142,443"/>
<path class="ld" d="M859,422 L927,445"/>
<path class="ld" d="M845,522 L915,498"/>
<path class="ld" d="M1202,557 L1123,601"/>
<path class="ld" d="M1205,669 L1112,750"/>
<path class="ld" d="M1238,808 L1140,860"/>
<path class="ld" d="M1255,945 L1113,917"/>
<path class="ld" d="M919,1056 L1015,1088"/>
<path class="ld" d="M825,1186 L950,1236"/>
<path class="ld" d="M825,1258 L938,1328"/>
<path class="ld" d="M707,917 L788,963"/>
<path class="ld" d="M1447,188 L1404,241"/>
<path class="ld" d="M1398,1335 L1365,1400"/>
<path class="ld" d="M1458,1467 L1372,1475"/>
<path class="ld" d="M429,1553 L528,1583"/>
<path class="ld" d="M607,1688 L568,1575"/>
<path class="ld" d="M530,1692 L498,1635"/>
<path class="ld" d="M664,1752 L650,1663"/>
<path class="ld" d="M742,1733 L695,1640"/>
<path class="ld" d="M518,1814 L665,1889"/>
<path class="ld" d="M935,1875 L830,1848"/>
<path class="ld" d="M1116,1852 L1085,1763"/>
<path class="ld" d="M934,1977 L830,1991"/>
<path class="ld" d="M933,2057 L830,2033"/>
<path class="ld" d="M1363,1737 L1313,1806"/>
<path class="ld" d="M1542,1760 L1508,1826"/>
<path class="ld" d="M1489,2028 L1535,1955"/>
<path class="ld" d="M402,1733 L376,1793"/>
<path class="ld" d="M230,1865 L328,1832"/>
<path class="ld" d="M268,1927 L371,1851"/>
<path class="ld" d="M343,1942 L397,1862"/>
<path class="ld" d="M149,1955 L106,1878"/>
<path class="ld" d="M678,688 L717,688 L794,776"/>
<path class="ld" d="M390,1436 L432,1436 L543,1538 L610,1517"/>
<path class="ld" d="M1362,612 L1332,612 L1358,503"/>
<path class="ld" d="M473,1129 L338,1204"/>

<!-- Callouts -->
<g class="L">
<g><circle cx="1262" cy="183" r="23.5"/><text class="n" x="1262" y="197" textLength="33" lengthAdjust="spacingAndGlyphs">26</text></g>
<g><circle cx="978" cy="303" r="23.5"/><text class="n" x="978" y="317" textLength="33" lengthAdjust="spacingAndGlyphs">18</text></g>
<g><circle cx="1170" cy="298" r="23.5"/><text class="n" x="1170" y="312" textLength="17" lengthAdjust="spacingAndGlyphs">8</text></g>
<g><circle cx="1232" cy="333" r="23.5"/><text class="n" x="1232" y="347" textLength="17" lengthAdjust="spacingAndGlyphs">2</text></g>
<g><circle cx="836" cy="216" r="23.5"/><text class="n" x="836" y="230" textLength="33" lengthAdjust="spacingAndGlyphs">39</text></g>
<g><circle cx="1462" cy="169" r="23.5"/><text class="n" x="1462" y="183" textLength="33" lengthAdjust="spacingAndGlyphs">47</text></g>
<g><circle cx="836" cy="415" r="23.5"/><text class="n" x="836" y="429" textLength="33" lengthAdjust="spacingAndGlyphs">62</text></g>
<g><circle cx="822" cy="530" r="23.5"/><text class="n" x="822" y="544" textLength="33" lengthAdjust="spacingAndGlyphs">21</text></g>
<g><circle cx="1222" cy="542" r="23.5"/><text class="n" x="1222" y="556" textLength="33" lengthAdjust="spacingAndGlyphs">22</text></g>
<g><circle cx="1224" cy="653" r="23.5"/><text class="n" x="1224" y="667" textLength="33" lengthAdjust="spacingAndGlyphs">31</text></g>
<g><circle cx="1259" cy="798" r="23.5"/><text class="n" x="1259" y="812" textLength="33" lengthAdjust="spacingAndGlyphs">49</text></g>
<g><circle cx="687" cy="905" r="23.5"/><text class="n" x="687" y="919" textLength="33" lengthAdjust="spacingAndGlyphs">23</text></g>
<g><circle cx="1278" cy="955" r="23.5"/><text class="n" x="1278" y="969" textLength="33" lengthAdjust="spacingAndGlyphs">19</text></g>
<g><circle cx="896" cy="1047" r="23.5"/><text class="n" x="896" y="1061" textLength="33" lengthAdjust="spacingAndGlyphs">16</text></g>
<g><circle cx="807" cy="1177" r="23.5"/><text class="n" x="807" y="1191" textLength="33" lengthAdjust="spacingAndGlyphs">44</text></g>
<g><circle cx="807" cy="1248" r="23.5"/><text class="n" x="807" y="1262" textLength="33" lengthAdjust="spacingAndGlyphs">42</text></g>
<g><circle cx="1411" cy="1311" r="23.5"/><text class="n" x="1411" y="1325" textLength="33" lengthAdjust="spacingAndGlyphs">41</text></g>
<g><circle cx="1481" cy="1458" r="23.5"/><text class="n" x="1481" y="1472" textLength="33" lengthAdjust="spacingAndGlyphs">40</text></g>
<g><circle cx="406" cy="1546" r="23.5"/><text class="n" x="406" y="1560" textLength="33" lengthAdjust="spacingAndGlyphs">12</text></g>
<g><circle cx="542" cy="1713" r="23.5"/><text class="n" x="542" y="1727" textLength="33" lengthAdjust="spacingAndGlyphs">52</text></g>
<g><circle cx="615" cy="1712" r="23.5"/><text class="n" x="615" y="1726" textLength="33" lengthAdjust="spacingAndGlyphs">55</text></g>
<g><circle cx="668" cy="1775" r="23.5"/><text class="n" x="668" y="1789" textLength="33" lengthAdjust="spacingAndGlyphs">27</text></g>
<g><circle cx="753" cy="1755" r="23.5"/><text class="n" x="753" y="1769" textLength="33" lengthAdjust="spacingAndGlyphs">58</text></g>
<g><circle cx="1553" cy="1737" r="23.5"/><text class="n" x="1553" y="1751" textLength="33" lengthAdjust="spacingAndGlyphs">33</text></g>
<g><circle cx="1378" cy="1715" r="23.5"/><text class="n" x="1378" y="1729" textLength="33" lengthAdjust="spacingAndGlyphs">57</text></g>
<g><circle cx="1477" cy="2050" r="23.5"/><text class="n" x="1477" y="2064" textLength="33" lengthAdjust="spacingAndGlyphs">11</text></g>
<g><circle cx="1124" cy="1875" r="23.5"/><text class="n" x="1124" y="1889" textLength="33" lengthAdjust="spacingAndGlyphs">25</text></g>
<g><circle cx="958" cy="1882" r="23.5"/><text class="n" x="958" y="1896" textLength="33" lengthAdjust="spacingAndGlyphs">29</text></g>
<g><circle cx="957" cy="1973" r="23.5"/><text class="n" x="957" y="1987" textLength="17" lengthAdjust="spacingAndGlyphs">6</text></g>
<g><circle cx="956" cy="2063" r="23.5"/><text class="n" x="956" y="2077" textLength="33" lengthAdjust="spacingAndGlyphs">61</text></g>
<g><circle cx="496" cy="1803" r="23.5"/><text x="496" y="1813" font-size="28" text-anchor="middle" textLength="42" lengthAdjust="spacingAndGlyphs">30a</text></g>
<g><circle cx="413" cy="1706" r="27"/><text class="s" x="413" y="1717" textLength="34" lengthAdjust="spacingAndGlyphs">30f</text></g>
<g><circle cx="201" cy="1875" r="27"/><text class="s" x="201" y="1886" textLength="39" lengthAdjust="spacingAndGlyphs">30d</text></g>
<g><circle cx="244" cy="1945" r="27"/><text class="s" x="244" y="1956" textLength="39" lengthAdjust="spacingAndGlyphs">30e</text></g>
<g><circle cx="326" cy="1965" r="27"/><text class="s" x="326" y="1976" textLength="39" lengthAdjust="spacingAndGlyphs">30b</text></g>
<g><circle cx="164" cy="1981" r="27"/><text class="s" x="164" y="1992" textLength="39" lengthAdjust="spacingAndGlyphs">30c</text></g>
</g>

<!-- Notes -->
<text class="t" x="1260" y="28" textLength="180" lengthAdjust="spacingAndGlyphs">TO RECOVERY</text>
<text class="t" x="1260" y="62" textLength="139" lengthAdjust="spacingAndGlyphs">LID PORT C</text>
<text class="t" x="1362" y="626" textLength="112" lengthAdjust="spacingAndGlyphs">TO PUMP</text>
<text class="t" x="1362" y="660" textLength="234" lengthAdjust="spacingAndGlyphs">INLET CONNECTOR</text>
<text class="t" x="494" y="698" textLength="180" lengthAdjust="spacingAndGlyphs">TO RECOVERY</text>
<text class="t" x="537" y="733" textLength="139" lengthAdjust="spacingAndGlyphs">LID PORT A</text>
<text class="t" x="206" y="1447" textLength="180" lengthAdjust="spacingAndGlyphs">TO RECOVERY</text>
<text class="t" x="248" y="1482" textLength="138" lengthAdjust="spacingAndGlyphs">LID PORT B</text>
<text x="469" y="1113" font-size="35" textLength="110" lengthAdjust="spacingAndGlyphs">FRONT</text>
</svg>
</body></html>
